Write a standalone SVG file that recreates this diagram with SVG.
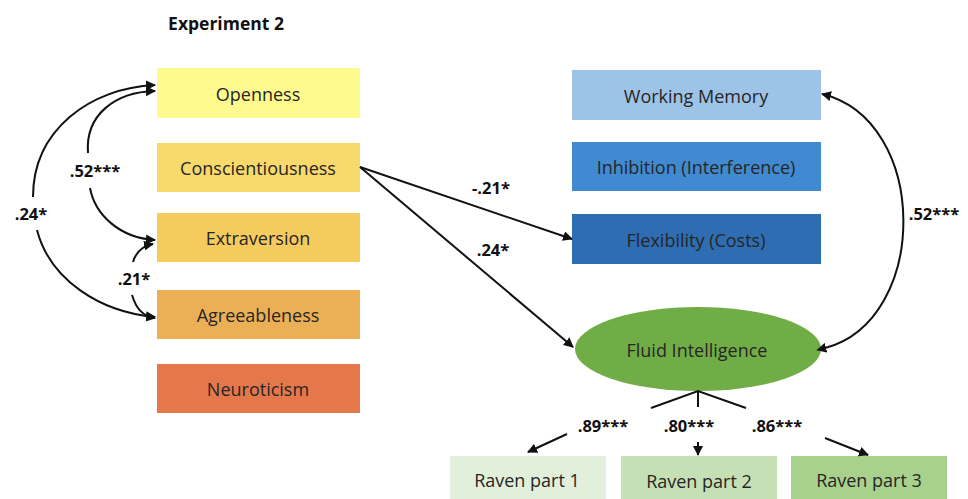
<svg xmlns="http://www.w3.org/2000/svg" width="968" height="499" viewBox="0 0 968 499">
<style>
.lbl{font-family:"Open Sans","Liberation Sans",sans-serif;font-size:18px;fill:#262626;text-anchor:middle;dominant-baseline:central}
.coef{font-family:"Open Sans","Liberation Sans",sans-serif;font-size:16.5px;font-weight:bold;fill:#111;text-anchor:middle;dominant-baseline:central}
.ln{fill:none;stroke:#111;stroke-width:2}
.arr{marker-end:url(#ah)}
</style>
<defs>
<marker id="ah" viewBox="0 0 10 10" refX="9" refY="5" markerWidth="5" markerHeight="5" orient="auto" markerUnits="strokeWidth">
<path d="M0,0 L10,5 L0,10 z" fill="#111"/>
</marker>
<marker id="ahs" viewBox="0 0 10 10" refX="1" refY="5" markerWidth="5" markerHeight="5" orient="auto-start-reverse" markerUnits="strokeWidth">
<path d="M0,0 L10,5 L0,10 z" fill="#111"/>
</marker>
</defs>
<rect width="968" height="499" fill="#fff"/>
<text x="226" y="23" font-family="'Open Sans','Liberation Sans',sans-serif" font-size="17.5" font-weight="bold" fill="#111" text-anchor="middle" dominant-baseline="central">Experiment 2</text>

<g id="openness"><rect x="157" y="68" width="203" height="50" fill="#FFFA8E"/><text class="lbl" x="258" y="94">Openness</text></g>
<g id="conscientiousness"><rect x="157" y="143" width="203" height="49" fill="#F8D96C"/><text class="lbl" x="258" y="168">Conscientiousness</text></g>
<g id="extraversion"><rect x="157" y="213" width="203" height="49" fill="#F6CB5E"/><text class="lbl" x="258" y="238">Extraversion</text></g>
<g id="agreeableness"><rect x="157" y="290" width="203" height="49" fill="#EBB055"/><text class="lbl" x="258" y="315">Agreeableness</text></g>
<g id="neuroticism"><rect x="157" y="364" width="203" height="49" fill="#E5784B"/><text class="lbl" x="258" y="389">Neuroticism</text></g>

<g id="working-memory"><rect x="572" y="70" width="249" height="50" fill="#9DC3E6"/><text class="lbl" x="696" y="96">Working Memory</text></g>
<g id="inhibition"><rect x="572" y="142" width="249" height="49" fill="#4189D0"/><text class="lbl" x="696" y="167">Inhibition (Interference)</text></g>
<g id="flexibility"><rect x="572" y="214" width="249" height="50" fill="#2E6DB1"/><text class="lbl" x="696" y="240">Flexibility (Costs)</text></g>

<g id="fluid-intelligence"><ellipse cx="698" cy="349" rx="123" ry="42" fill="#70AD47"/><text class="lbl" x="697" y="350">Fluid Intelligence</text></g>

<g id="raven1"><rect x="450" y="456" width="156" height="43" fill="#E2EFDA"/><text class="lbl" x="527" y="480">Raven part 1</text></g>
<g id="raven2"><rect x="621" y="456" width="156" height="43" fill="#C5E0B4"/><text class="lbl" x="699" y="481">Raven part 2</text></g>
<g id="raven3"><rect x="791" y="456" width="156" height="43" fill="#A9D18E"/><text class="lbl" x="869" y="480">Raven part 3</text></g>

<g id="connectors">
<path class="ln arr" d="M33,197 C33,130 90,88 155,85"/>
<path class="ln arr" d="M37,230 C50,280 100,312 155,317"/>
<path class="ln arr" d="M88,153 C85,115 115,92 155,91"/>
<path class="ln arr" d="M90,188 C95,215 120,238 155,240"/>
<path class="ln arr" d="M133,262 C136,252 142,246 153,244"/>
<path class="ln arr" d="M132,295 C136,308 142,316 155,318"/>
<path class="ln arr" d="M360,167 L572,239"/>
<path class="ln arr" d="M360,167 L573,347"/>
<path class="ln arr" d="M825,348 C930,320 930,120 822,94" style="marker-start:url(#ahs)"/>
<path class="ln" d="M651,408 L698,391 L746,408 M698,391 L698,407"/>
<path class="ln arr" d="M567,434 L528,452"/>
<path class="ln arr" d="M698,442 L698,455"/>
<path class="ln arr" d="M825,438 L868,455"/>
<text class="coef" x="31" y="213">.24*</text>
<text class="coef" x="95" y="170">.52***</text>
<text class="coef" x="134" y="278">.21*</text>
<text class="coef" x="491" y="187">-.21*</text>
<text class="coef" x="493" y="249">.24*</text>
<text class="coef" x="934" y="213">.52***</text>
<text class="coef" x="603" y="425">.89***</text>
<text class="coef" x="689" y="425">.80***</text>
<text class="coef" x="777" y="425">.86***</text>
</g>
</svg>
